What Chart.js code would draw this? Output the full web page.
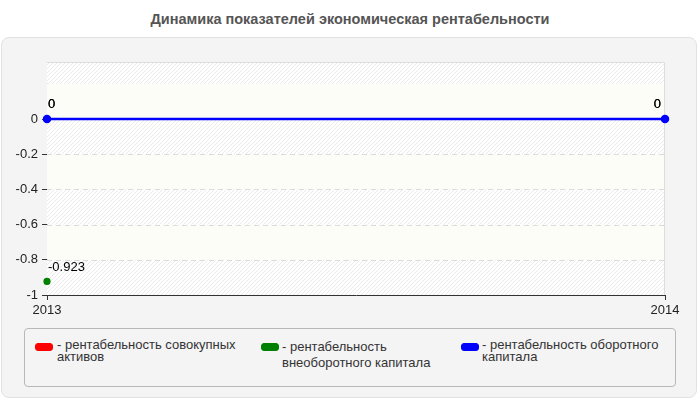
<!DOCTYPE html>
<html>
<head>
<meta charset="utf-8">
<script src="https://cdn.jsdelivr.net/npm/chart.js@4"></script>
<style>
  body { margin: 0; background: #fff; font-family: "Liberation Sans", Arial, sans-serif; }
  #wrap { position: relative; width: 700px; height: 400px; overflow: hidden; }
  #title { position: absolute; left: 0; top: 11px; width: 700px; text-align: center;
           font-weight: bold; font-size: 14.5px; color: #555; }
  #panel { position: absolute; left: 1px; top: 37px; width: 694px; height: 359px;
           background: #f4f4f4; border: 1px solid #e2e2e2; border-radius: 8px; }
  #legend { position: absolute; left: 24px; top: 328px; width: 650px; height: 57px;
            border: 1px solid #b8b8b8; border-radius: 4px; }
  .item { position: absolute; font-size: 13px; color: #333; }
  .mark { position: absolute; width: 16px; height: 6px; border-radius: 3px; }
  .txt { position: absolute; }
  canvas { position: absolute; left: 0; top: 0; }
</style>
</head>
<body>
<div id="wrap">
  <div id="panel"></div>
  <div id="title">Динамика показателей экономическая рентабельности</div>
  <div id="legend"></div>
  <canvas id="chart" width="700" height="400"></canvas>
</div>
<script>
// --- Data ---
const years = ["2013", "2014"];
const totalAssets = [0, 0];          // рентабельность совокупных активов
const fixedCapital = [-0.923, null]; // рентабельность внеоборотного капитала
const workingCapital = [0, 0];       // рентабельность оборотного капитала
const seriesNames = [
  "рентабельность совокупных активов",
  "рентабельность внеоборотного капитала",
  "рентабельность оборотного капитала"
];
const seriesColors = ["#ff0000", "#008000", "#0000ff"];
const yTicks = [-1, -0.8, -0.6, -0.4, -0.2, 0, 0.2];

const FONT = "'Liberation Sans', Arial, sans-serif";

// ===========================
// hatch pattern for the plot bands
// ===========================
const pc = document.createElement("canvas");
pc.width = 4; pc.height = 4;
const pctx = pc.getContext("2d");
pctx.fillStyle = "#ffffff";
pctx.fillRect(0, 0, 4, 4);
pctx.strokeStyle = "#ebebeb";
pctx.lineWidth = 1;
pctx.beginPath();
pctx.moveTo(0, 4); pctx.lineTo(4, 0);
pctx.moveTo(-1, 1); pctx.lineTo(1, -1);
pctx.moveTo(3, 5); pctx.lineTo(5, 3);
pctx.stroke();

const bandsPlugin = {
  id: "bands",
  beforeDatasetsDraw(chart) {
    const { ctx, chartArea: a, scales: { y } } = chart;
    const pattern = ctx.createPattern(pc, "repeat");
    ctx.save();
    // bands between ticks, hatched / plain
    for (let i = 0; i < yTicks.length; i++) {
      const lo = yTicks[i];
      const hi = i + 1 < yTicks.length ? yTicks[i + 1] : y.max;
      const top = Math.max(a.top, y.getPixelForValue(hi));
      const bot = Math.min(a.bottom, y.getPixelForValue(lo));
      ctx.fillStyle = (i % 2 === 0) ? pattern : "#fdfdf7";
      ctx.fillRect(a.left, top, a.right - a.left, bot - top);
    }
    // dashed grid lines
    ctx.strokeStyle = "#dcdcdc";
    ctx.lineWidth = 1;
    ctx.setLineDash([5, 4]);
    yTicks.forEach(v => {
      if (v <= -1 || v > 0) return;
      const py = Math.round(y.getPixelForValue(v)) + 0.5;
      ctx.beginPath();
      ctx.moveTo(a.left, py);
      ctx.lineTo(a.right, py);
      ctx.stroke();
    });
    ctx.setLineDash([]);
    // light top / right border
    ctx.strokeStyle = "#dddddd";
    ctx.beginPath();
    ctx.moveTo(a.left, a.top + 0.5);
    ctx.lineTo(a.right - 0.5, a.top + 0.5);
    ctx.lineTo(a.right - 0.5, a.bottom);
    ctx.stroke();
    ctx.restore();
  }
};

// value labels next to points
const labelsPlugin = {
  id: "valueLabels",
  afterDatasetsDraw(chart) {
    const { ctx } = chart;
    ctx.save();
    ctx.font = "13px " + FONT;
    ctx.fillStyle = "#000";
    ctx.textBaseline = "bottom";
    chart.data.datasets.forEach((ds, di) => {
      const meta = chart.getDatasetMeta(di);
      meta.data.forEach((pt, i) => {
        const v = ds.data[i];
        if (v === null || v === undefined) return;
        const last = i === ds.data.length - 1 && i > 0;
        ctx.textAlign = last ? "right" : "left";
        ctx.fillText(String(v), last ? pt.x - 4 : pt.x + 1, pt.y - 8);
      });
    });
    ctx.restore();
  }
};

const ctx = document.getElementById("chart").getContext("2d");
const chart = new Chart(ctx, {
  type: "line",
  data: {
    labels: years,
    datasets: [
      { label: seriesNames[0], data: totalAssets, borderColor: seriesColors[0], backgroundColor: seriesColors[0],
        borderWidth: 2, pointRadius: 3, pointBorderWidth: 1, order: 2 },
      { label: seriesNames[1], data: fixedCapital, borderColor: seriesColors[1], backgroundColor: seriesColors[1],
        borderWidth: 2, pointRadius: 3, pointBorderWidth: 1.2, order: 1 },
      { label: seriesNames[2], data: workingCapital, borderColor: seriesColors[2], backgroundColor: seriesColors[2],
        borderWidth: 2.5, pointRadius: 3.5, pointBorderWidth: 1.5, order: 0 }
    ]
  },
  options: {
    responsive: false,
    animation: false,
    layout: { padding: { left: 0, top: 62, right: 35, bottom: 83 } },
    plugins: { legend: { display: false }, tooltip: { enabled: false }, title: { display: false } },
    scales: {
      x: {
        offset: false,
        grid: { color: "transparent", tickColor: "#333", tickLength: 5, drawOnChartArea: false },
        border: { color: "#333", width: 1 },
        ticks: { color: "#222", padding: 3, maxRotation: 0, autoSkip: false, font: { size: 13, family: FONT } },
        afterFit(s) { s.height = 22; s.paddingLeft = 0; s.paddingRight = 0; }
      },
      y: {
        min: -1,
        max: 0.324,
        afterBuildTicks(s) { s.ticks = yTicks.map(v => ({ value: v })); },
        grid: {
          drawOnChartArea: false,
          tickLength: 5,
          tickColor: c => (c.tick && c.tick.value > 0) ? "transparent" : "#333"
        },
        border: { color: "#333", width: 1 },
        ticks: {
          color: "#222", padding: 4,
          font: { size: 13, family: FONT },
          callback: v => v > 0 ? "" : String(Math.round(v * 10) / 10)
        },
        afterFit(s) { s.width = 47; s.paddingTop = 0; s.paddingBottom = 0; }
      }
    }
  },
  plugins: [bandsPlugin, labelsPlugin]
});

// ===========================
// HTML legend (wrapped text)
// ===========================
const legend = document.getElementById("legend");
const legendPos = [
  { x: 10, tx: 32, w: 190, lh: 12 },
  { x: 236, tx: 257, w: 170, lh: 16 },
  { x: 436, tx: 457, w: 205, lh: 12 }
];
seriesNames.forEach((name, i) => {
  const p = legendPos[i];
  const mark = document.createElement("div");
  mark.className = "mark";
  mark.style.left = p.x + "px";
  mark.style.top = "14px";
  mark.style.background = seriesColors[i];
  mark.style.border = "1px solid " + seriesColors[i];
  legend.appendChild(mark);
  const t = document.createElement("div");
  t.className = "item txt";
  t.style.left = p.tx + "px";
  t.style.top = "10px";
  t.style.width = p.w + "px";
  t.style.lineHeight = p.lh + "px";
  t.innerText = "- " + name;
  legend.appendChild(t);
});
</script>
</body>
</html>
